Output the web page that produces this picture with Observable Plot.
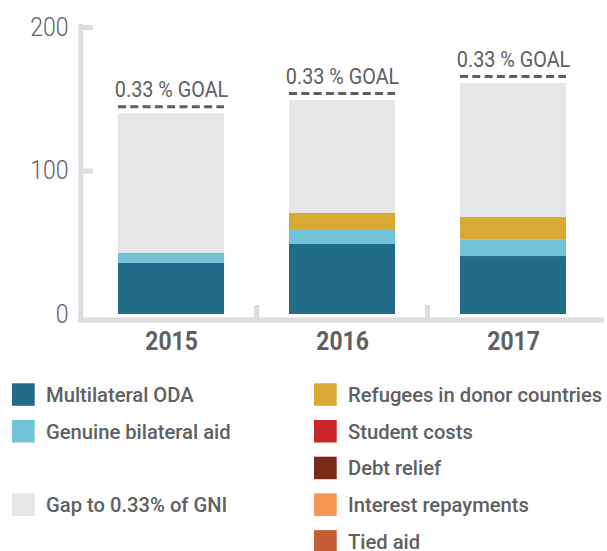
<!DOCTYPE html>
<html>
<head>
<meta charset="utf-8">
<script src="https://cdn.jsdelivr.net/npm/d3@7"></script>
<script src="https://cdn.jsdelivr.net/npm/@observablehq/plot@0.6"></script>
<style>
html, body { margin: 0; padding: 0; background: #ffffff; }
#chart svg, #legend svg { display: block; }
</style>
</head>
<body>
<div id="chart"></div>
<div id="legend"></div>
<script>
// ---- data ----
const years = ["2015", "2016", "2017"];
const seriesNames = [
  "Multilateral ODA",
  "Genuine bilateral aid",
  "Refugees in donor countries",
  "Student costs",
  "Debt relief",
  "Interest repayments",
  "Tied aid",
  "Gap to 0.33% of GNI"
];
const seriesColors = ["#216d89", "#71c3d8", "#d9a935", "#cb2529", "#7a2916", "#f59553", "#c45d34", "#e5e6e8"];
const multilateralODA   = [35.7, 48.8, 40.4];
const genuineBilateral  = [6.8, 9.7, 11.7];
const refugees          = [0, 11.9, 15.5];
const studentCosts      = [0, 0, 0];
const debtRelief        = [0, 0, 0];
const interestRepay     = [0, 0, 0];
const tiedAid           = [0, 0, 0];
const gapToGoal         = [97.4, 78.7, 93.4];
const goalLabel = "0.33 % GOAL";
const yTicks = [0, 100, 200];
const legendLeft  = ["Multilateral ODA", "Genuine bilateral aid", null, "Gap to 0.33% of GNI"];
const legendRight = ["Refugees in donor countries", "Student costs", "Debt relief", "Interest repayments", "Tied aid"];

// ---- build tables ----
const seriesValues = [multilateralODA, genuineBilateral, refugees, studentCosts, debtRelief, interestRepay, tiedAid, gapToGoal];
const rows = [];
years.forEach((yr, i) => {
  seriesNames.forEach((s, j) => {
    if (seriesValues[j][i] > 0) rows.push({year: yr, series: s, value: seriesValues[j][i]});
  });
});
const goals = years.map((yr, i) => ({year: yr, total: d3.sum(seriesValues, v => v[i])}));

const textColor = "#5f6062";
const axisColor = "#dcdddf";
const dashColor = "#5e5e5e";

const chart = Plot.plot({
  width: 607,
  height: 360,
  marginTop: 27,
  marginBottom: 46,
  marginLeft: 78,
  marginRight: 3,
  style: {fontFamily: "Roboto, sans-serif", background: "#ffffff", overflow: "visible"},
  x: {domain: years, range: [86, 599], paddingInner: 0.38, paddingOuter: 0.19, label: null},
  y: {domain: [0, 200], label: null},
  color: {domain: seriesNames, range: seriesColors},
  marks: [
    Plot.ruleY([0], {dy: 5.5, stroke: axisColor, strokeWidth: 5}),
    Plot.barY(rows, {x: "year", y: "value", fill: "series", order: seriesNames}),
    Plot.tickY(goals, {x: "year", y: "total", dy: -7, stroke: dashColor, strokeWidth: 3, strokeDasharray: "8,4.3"}),
    Plot.text(goals, {x: "year", y: "total", text: () => goalLabel, dy: -16.5, lineAnchor: "bottom",
      fontSize: 22, fontWeight: 400, fill: textColor}),
    Plot.axisY({ticks: yTicks, tickSize: 0, tickPadding: 10, fontSize: 25, fontWeight: 300, fill: textColor, label: null}),
    Plot.axisX({tickSize: 0, tickPadding: 17, fontSize: 26, fontWeight: 700, fill: textColor, label: null})
  ]
});
document.getElementById("chart").appendChild(chart);

// ---- axis frame decorations, placed through Plot's scales ----
const sx = chart.scale("x");
const sy = chart.scale("y");
const yv = v => sy.apply(v);
const step = sx.step !== undefined ? sx.step : (sx.range[1] - sx.range[0]) / years.length;
const bw = sx.bandwidth !== undefined ? sx.bandwidth : step * 0.62;
const svg = d3.select(chart);
const deco = svg.insert("g", ":first-child").attr("stroke", axisColor).attr("stroke-width", 5).attr("fill", "none");
const axX = 78 + 2.8;
deco.append("line").attr("x1", axX).attr("x2", axX).attr("y1", yv(200) - 3).attr("y2", yv(0) + 8);
yTicks.filter(t => t > 0).forEach(t => {
  deco.append("line").attr("x1", axX).attr("x2", axX + 12).attr("y1", yv(t) + 0.5).attr("y2", yv(t) + 0.5);
});
years.slice(1).forEach(yr => {
  const sep = sx.apply(yr) - (step - bw) / 2;
  deco.append("line").attr("x1", sep).attr("x2", sep).attr("y1", yv(0) - 9).attr("y2", yv(0) + 5.5);
});

// ---- condense text like the narrow typeface of the original ----
function condense(sel, f) {
  sel.each(function() {
    const w = this.getComputedTextLength();
    this.setAttribute("textLength", w * f);
    this.setAttribute("lengthAdjust", "spacingAndGlyphs");
  });
}
condense(svg.selectAll('g[aria-label="y-axis tick label"] text'), 0.92);
condense(svg.selectAll('g[aria-label="x-axis tick label"] text'), 0.88);
condense(svg.selectAll('g[aria-label="text"] text'), 0.9);

// ---- legend ----
const colorOf = d3.scaleOrdinal(seriesNames, seriesColors);
const leg = d3.select("#legend").append("svg").attr("width", 607).attr("height", 191)
  .style("font-family", "Roboto, sans-serif");
function drawColumn(items, swX, txX) {
  items.forEach((name, i) => {
    if (!name) return;
    const top = 23.3 + i * 36.7;
    leg.append("rect").attr("x", swX).attr("y", top).attr("width", 22.7).attr("height", 22.5).attr("fill", colorOf(name));
    leg.append("text").attr("x", txX).attr("y", top + 18.5).attr("font-size", 20.5).attr("font-weight", 500)
      .attr("fill", textColor).text(name);
  });
}
drawColumn(legendLeft, 12, 46);
drawColumn(legendRight, 314, 348);
condense(leg.selectAll("text"), 0.985);
</script>
</body>
</html>
